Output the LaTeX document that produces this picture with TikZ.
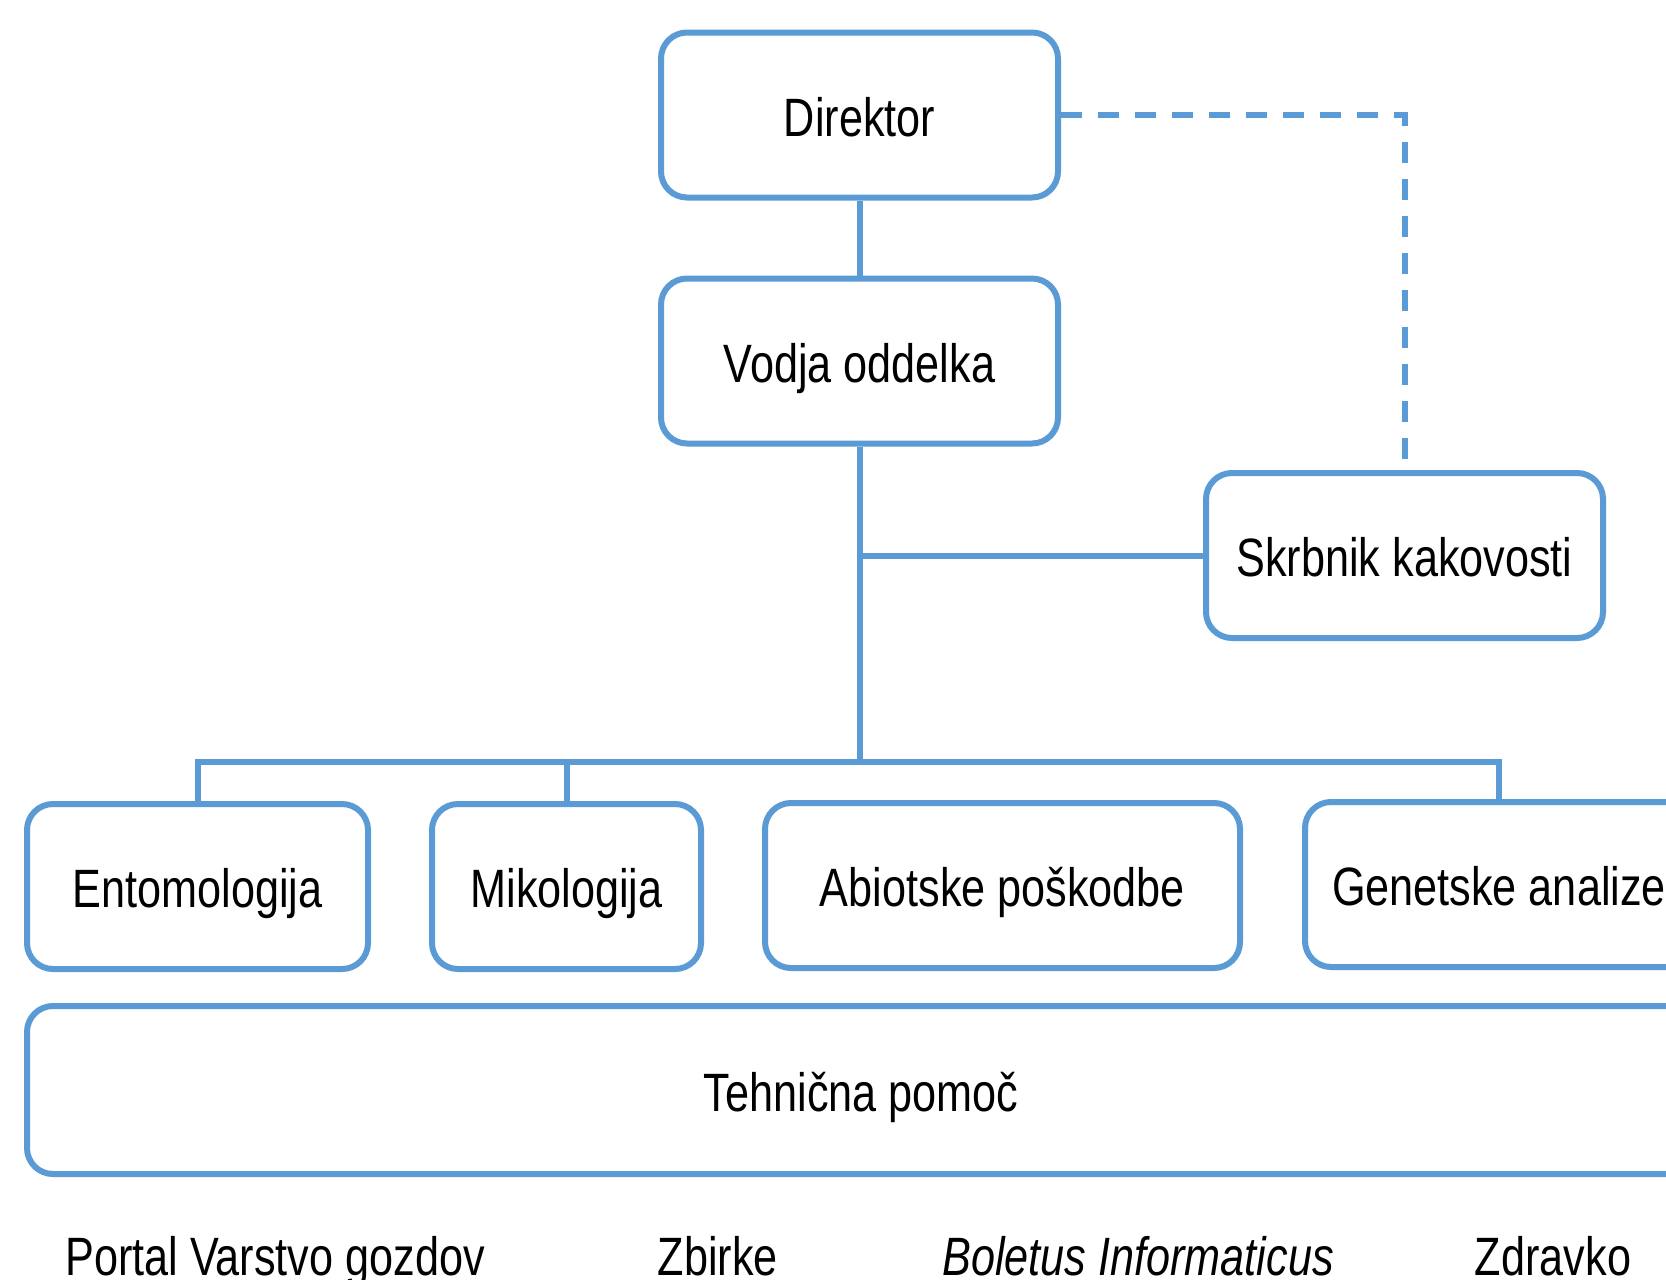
\documentclass[tikz,border=0pt]{standalone}
\usepackage{fontspec}
\setmainfont[FakeStretch=0.8]{Liberation Sans}
\usetikzlibrary{calc}
\definecolor{boxblue}{HTML}{5B9BD5}
\begin{document}
\begin{tikzpicture}[x=0.5pt,y=-0.5pt,
  box/.style={draw=boxblue, line width=3pt, rounded corners=13pt, fill=white,
    inner sep=0pt, text height=21pt, text depth=0pt,
    font=\fontsize{27}{32}\selectfont, minimum height=82.5pt},
  conn/.style={draw=boxblue, line width=3pt},
  dashconn/.style={draw=boxblue, line width=3pt, dash pattern=on 10.5pt off 8pt},
  label/.style={anchor=base, inner sep=0pt, font=\fontsize{27}{32}\selectfont}]
\clip (0,0) rectangle (1666,1280);
\fill[white] (0,0) rectangle (1666,1280);

\node[box, minimum width=198.5pt] (dir) at (859.5,115) {Direktor};
\node[box, minimum width=198.5pt] (vod) at (859.5,361) {Vodja oddelka};
\node[box, minimum width=198.5pt] (skr) at (1404.5,555.5) {Skrbnik kakovosti};
\node[box, minimum width=170.5pt] (ent) at (197.5,886.5) {Entomologija};
\node[box, minimum width=134.5pt] (mik) at (566.5,886.5) {Mikologija};
\node[box, minimum width=237.5pt] (abi) at (1002.5,885.5) {Abiotske poškodbe};
\node[box, minimum width=194pt] (gen) at (1499,884.5) {Genetske analize};
\node[box, minimum width=834pt, minimum height=84pt] (teh) at (861,1090) {Tehnična pomoč};

\coordinate (bus) at (859.5,762);

\draw[conn] (dir.south) -- (vod.north);
\draw[conn] (vod.south) -- (bus);
\draw[conn] (vod.south |- skr.west) -- (skr.west);
\draw[dashconn] (dir.east) -- (dir.east -| skr.north) -- (skr.north);
\draw[conn] (ent.north) -- (ent.north |- bus) -- (gen.north |- bus) -- (gen.north);
\draw[conn] (mik.north |- bus) -- (mik.north);
\draw[conn] ($(abi.north)+(-8.5,0)$ |- bus) -- ($(abi.north)+(-8.5,0)$);

\node[label] (portal) at (275,1275) {Portal Varstvo gozdov};
\node[label] (zbirke) at (718,1275) {Zbirke};
\node[label] (boletus) at (1138,1275) {\itshape Boletus Informaticus};
\node[label] (zdravko) at (1553,1275) {Zdravko};
\end{tikzpicture}
\end{document}
